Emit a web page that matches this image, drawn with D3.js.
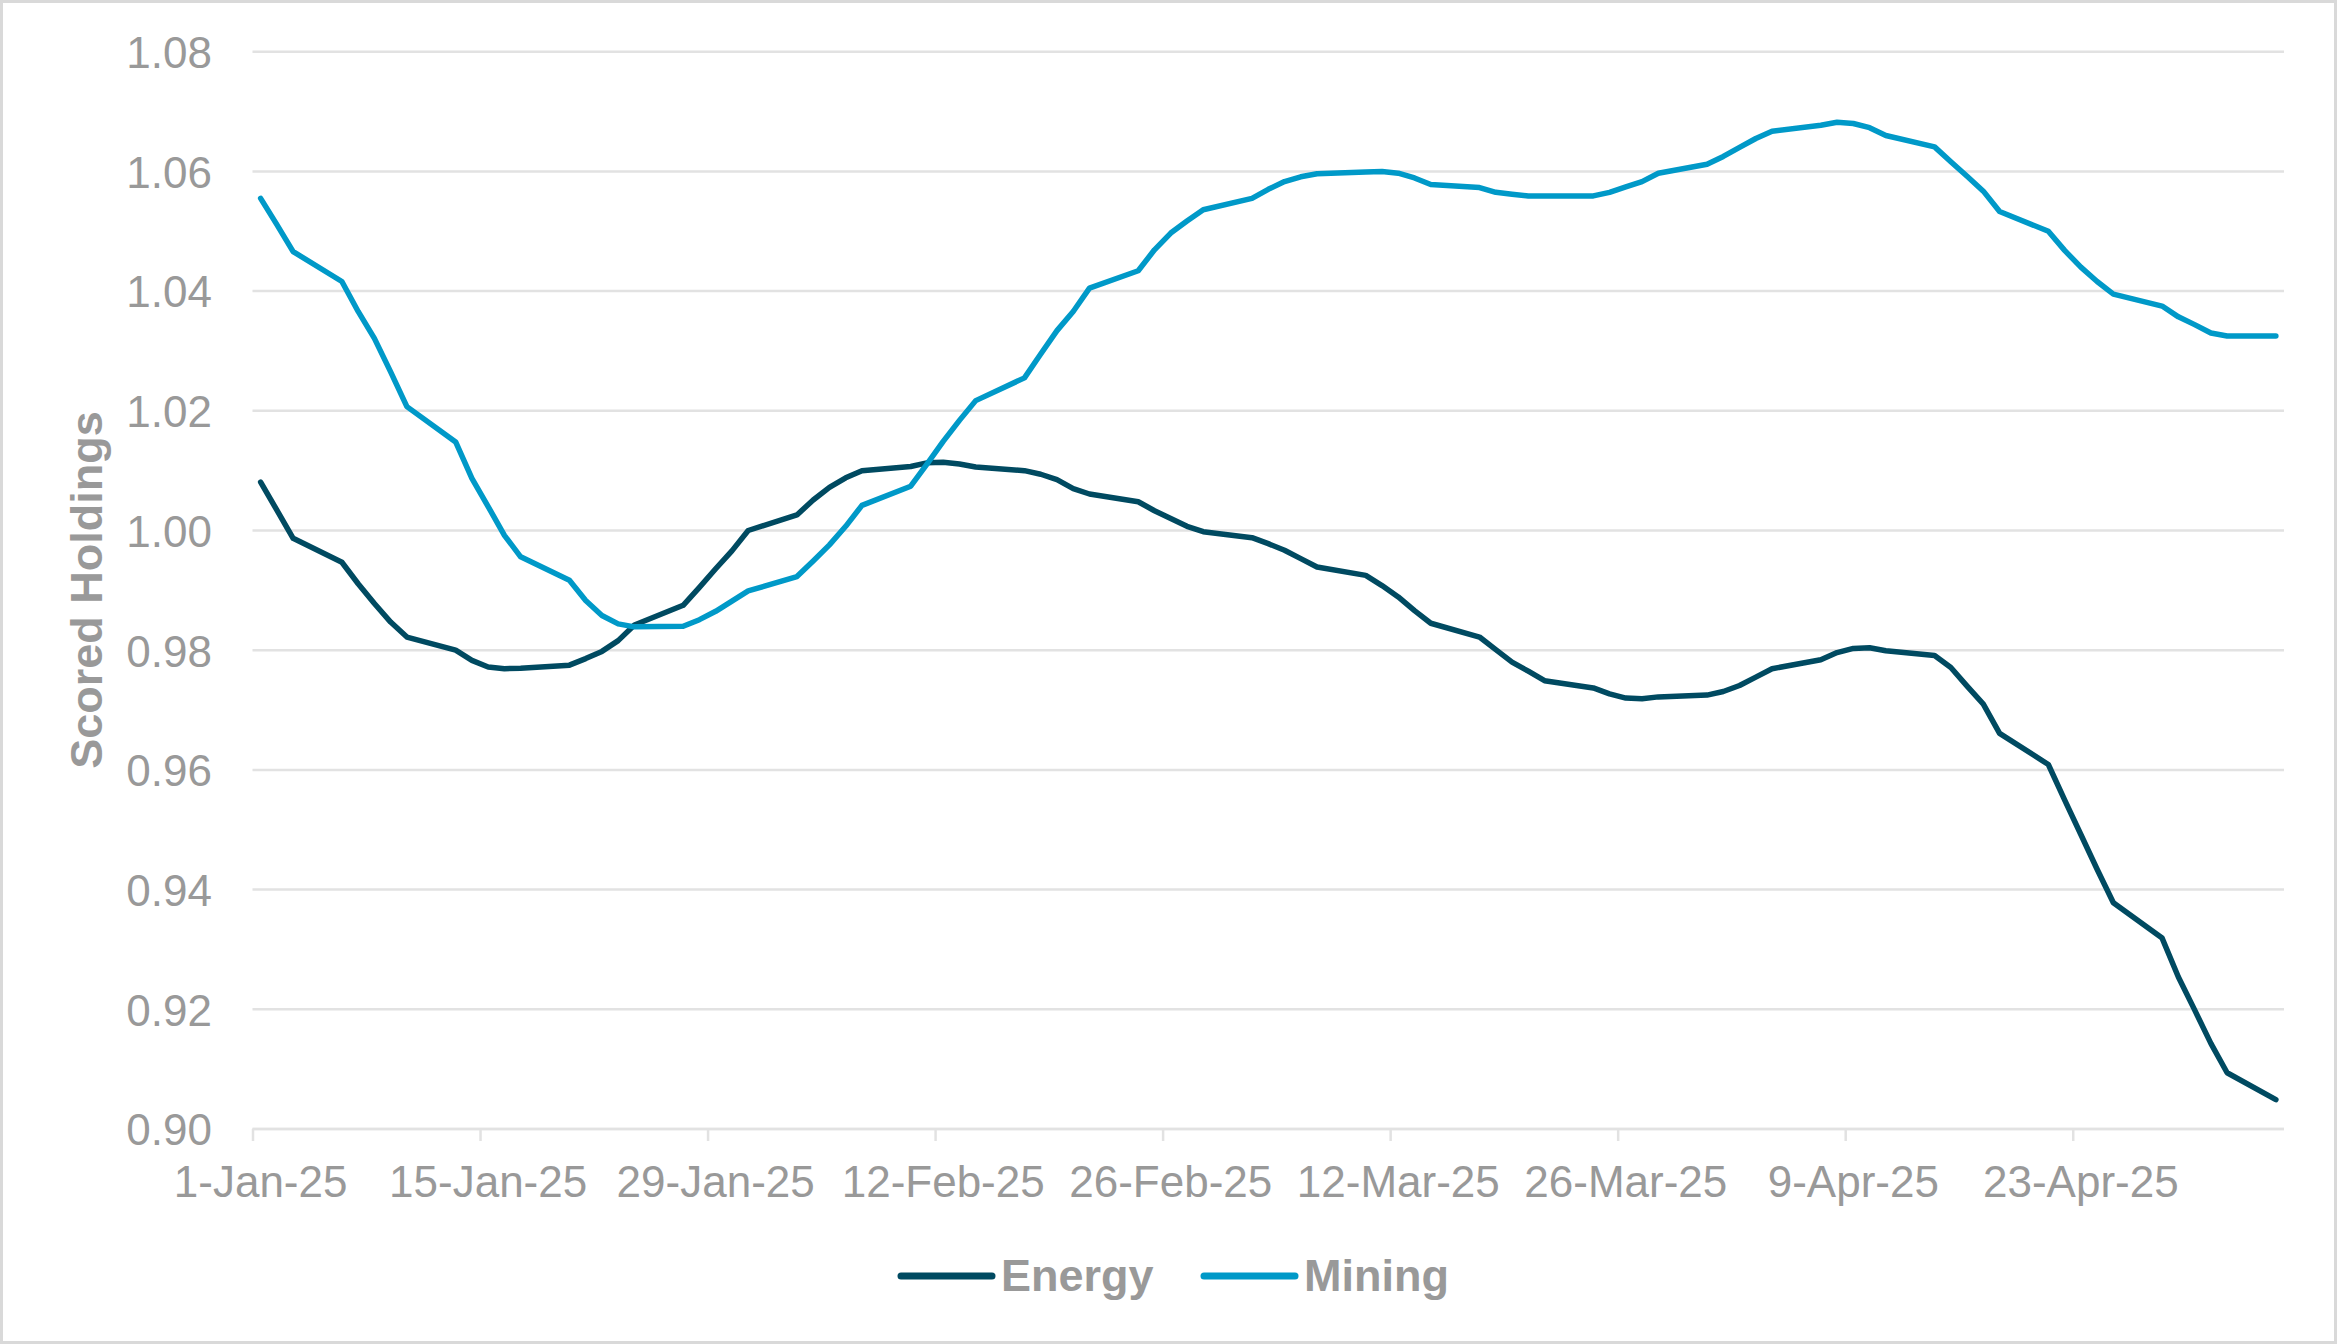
<!DOCTYPE html>
<html>
<head>
<meta charset="utf-8">
<script src="https://cdn.jsdelivr.net/npm/d3@7"></script>
<style>
  html, body { margin: 0; padding: 0; background: #ffffff; }
  svg { display: block; }
  text { font-family: "Liberation Sans", Arial, sans-serif; }
</style>
</head>
<body>
<svg id="chart" width="2337" height="1344"></svg>
<script>
// ---- Data (business days) ----
const dates = [
  "2025-01-01","2025-01-02","2025-01-03","2025-01-06","2025-01-07","2025-01-08","2025-01-09","2025-01-10",
  "2025-01-13","2025-01-14","2025-01-15","2025-01-16","2025-01-17","2025-01-20","2025-01-21","2025-01-22",
  "2025-01-23","2025-01-24","2025-01-27","2025-01-28","2025-01-29","2025-01-30","2025-01-31",
  "2025-02-03","2025-02-04","2025-02-05","2025-02-06","2025-02-07","2025-02-10","2025-02-11","2025-02-12",
  "2025-02-13","2025-02-14","2025-02-17","2025-02-18","2025-02-19","2025-02-20","2025-02-21","2025-02-24",
  "2025-02-25","2025-02-26","2025-02-27","2025-02-28",
  "2025-03-03","2025-03-04","2025-03-05","2025-03-06","2025-03-07","2025-03-10","2025-03-11","2025-03-12",
  "2025-03-13","2025-03-14","2025-03-17","2025-03-18","2025-03-19","2025-03-20","2025-03-21","2025-03-24",
  "2025-03-25","2025-03-26","2025-03-27","2025-03-28","2025-03-31",
  "2025-04-01","2025-04-02","2025-04-03","2025-04-04","2025-04-07","2025-04-08","2025-04-09","2025-04-10",
  "2025-04-11","2025-04-14","2025-04-15","2025-04-16","2025-04-17","2025-04-18","2025-04-21","2025-04-22",
  "2025-04-23","2025-04-24","2025-04-25","2025-04-28","2025-04-29","2025-04-30",
  "2025-05-01","2025-05-02","2025-05-05"
];

const energy = [
  1.0081, 1.0034, 0.9987, 0.9947, 0.9911, 0.9878, 0.9847, 0.9822,
  0.9800, 0.9783, 0.9772, 0.9769, 0.9770, 0.9775, 0.9786, 0.9798,
  0.9816, 0.9842, 0.9875, 0.9905, 0.9936, 0.9966, 1.0000,
  1.0026, 1.0051, 1.0072, 1.0088, 1.0100, 1.0107, 1.0113, 1.0114,
  1.0111, 1.0106, 1.0100, 1.0094, 1.0085, 1.0070, 1.0061, 1.0048,
  1.0033, 1.0020, 1.0007, 0.9998,
  0.9988, 0.9978, 0.9967, 0.9953, 0.9939, 0.9925, 0.9908, 0.9889,
  0.9866, 0.9845, 0.9822, 0.9801, 0.9780, 0.9765, 0.9749, 0.9737,
  0.9727, 0.9720, 0.9719, 0.9722, 0.9725,
  0.9731, 0.9741, 0.9755, 0.9769, 0.9784, 0.9796, 0.9803, 0.9804,
  0.9799, 0.9791, 0.9771, 0.9740, 0.9710, 0.9661, 0.9609, 0.9550,
  0.9492, 0.9434, 0.9378, 0.9319, 0.9254, 0.9199,
  0.9143, 0.9094, 0.9049
];

const mining = [
  1.0555, 1.0511, 1.0466, 1.0416, 1.0366, 1.0321, 1.0265, 1.0207,
  1.0148, 1.0087, 1.0040, 0.9992, 0.9956, 0.9917, 0.9883, 0.9858,
  0.9844, 0.9839, 0.9840, 0.9851, 0.9865, 0.9882, 0.9899,
  0.9923, 0.9949, 0.9976, 1.0007, 1.0042, 1.0074, 1.0111, 1.0149,
  1.0184, 1.0217, 1.0255, 1.0295, 1.0334, 1.0366, 1.0405, 1.0434,
  1.0469, 1.0497, 1.0517, 1.0536,
  1.0555, 1.0570, 1.0583, 1.0591, 1.0596, 1.0599, 1.0600, 1.0597,
  1.0589, 1.0578, 1.0573, 1.0565, 1.0562, 1.0559, 1.0559, 1.0559,
  1.0565, 1.0574, 1.0583, 1.0597, 1.0612,
  1.0625, 1.0640, 1.0655, 1.0667, 1.0677, 1.0682, 1.0680, 1.0673,
  1.0660, 1.0641, 1.0616, 1.0592, 1.0567, 1.0533, 1.0500, 1.0468,
  1.0440, 1.0416, 1.0395, 1.0375, 1.0357, 1.0344,
  1.0330, 1.0325, 1.0325
];

const seriesNames = ["Energy", "Mining"];
const seriesColors = ["#004a61", "#0099c8"];
const xTickDates = ["2025-01-01","2025-01-15","2025-01-29","2025-02-12","2025-02-26",
                    "2025-03-12","2025-03-26","2025-04-09","2025-04-23"];
const yTicks = [0.90, 0.92, 0.94, 0.96, 0.98, 1.00, 1.02, 1.04, 1.06, 1.08];
const axisStart = "2025-01-01";
const axisEnd = "2025-05-06";
const yTitle = "Scored Holdings";

// ---- Drawing ----
const W = 2337, H = 1344;
const svg = d3.select("#chart");
const parse = d3.utcParse("%Y-%m-%d");
const HALF_DAY = 12 * 3600 * 1000;
const gridColor = "#e2e2e2";
const textColor = "#999999";

svg.append("rect").attr("x", 0).attr("y", 0).attr("width", W).attr("height", H).attr("fill", "#ffffff");
svg.append("rect").attr("x", 1.5).attr("y", 1.5).attr("width", W - 3).attr("height", H - 3)
  .attr("fill", "none").attr("stroke", "#d9d9d9").attr("stroke-width", 3);

const x = d3.scaleUtc().domain([parse(axisStart), parse(axisEnd)]).range([252.5, 2284]);
const y = d3.scaleLinear().domain([0.90, 1.08]).range([1129, 51.7]);

// gridlines
const grid = svg.append("g");
grid.selectAll("line").data(yTicks).join("line")
  .attr("x1", x.range()[0]).attr("x2", x.range()[1])
  .attr("y1", d => y(d)).attr("y2", d => y(d))
  .attr("stroke", gridColor).attr("stroke-width", 2.5);

// y labels
const yAxis = d3.axisLeft(y).tickValues(yTicks).tickFormat(d3.format(".2f")).tickSize(0).tickPadding(0);
const gy = svg.append("g").attr("transform", "translate(212,0)").call(yAxis);
gy.select(".domain").remove();
gy.selectAll("text").attr("fill", textColor).attr("font-size", 44)
  .attr("font-family", "'Liberation Sans', Arial, sans-serif").attr("dy", "0.36em");

// x axis ticks
const tickDates = xTickDates.map(parse);
const xAxis = d3.axisBottom(x).tickValues(tickDates).tickSize(12).tickFormat("");
const gx = svg.append("g").attr("transform", `translate(0,${y(0.90)})`).call(xAxis);
gx.select(".domain").attr("stroke", gridColor).attr("stroke-width", 2.5)
  .attr("d", `M${x.range()[0]},0H${x.range()[1]}`);
gx.selectAll(".tick line").attr("stroke", gridColor).attr("stroke-width", 2.5);

// x labels, centred on each day
const fmt = d3.utcFormat("%-d-%b-%y");
svg.append("g").selectAll("text").data(tickDates).join("text")
  .attr("x", d => x(new Date(d.getTime() + HALF_DAY)))
  .attr("y", 1197)
  .attr("text-anchor", "middle")
  .attr("fill", textColor).attr("font-size", 44)
  .text(d => fmt(d));

// y title
svg.append("text")
  .attr("transform", "translate(102,590) rotate(-90)")
  .attr("text-anchor", "middle")
  .attr("fill", textColor).attr("font-size", 45).attr("font-weight", "bold")
  .text(yTitle);

// lines
const pts = dates.map(s => new Date(parse(s).getTime() + HALF_DAY));
const series = [energy, mining];
const line = d3.line().x((d, i) => x(pts[i])).y(d => y(d));
series.forEach((vals, k) => {
  svg.append("path").datum(vals)
    .attr("d", line)
    .attr("fill", "none")
    .attr("stroke", seriesColors[k])
    .attr("stroke-width", 5.5)
    .attr("stroke-linejoin", "round")
    .attr("stroke-linecap", "round");
});

// legend
const legendX = [901, 1204];
const legend = svg.append("g");
seriesNames.forEach((name, k) => {
  legend.append("line")
    .attr("x1", legendX[k]).attr("x2", legendX[k] + 91)
    .attr("y1", 1276).attr("y2", 1276)
    .attr("stroke", seriesColors[k]).attr("stroke-width", 7).attr("stroke-linecap", "round");
  legend.append("text")
    .attr("x", legendX[k] + 100).attr("y", 1291)
    .attr("fill", textColor).attr("font-size", 45).attr("font-weight", "bold")
    .text(name);
});
</script>
</body>
</html>
